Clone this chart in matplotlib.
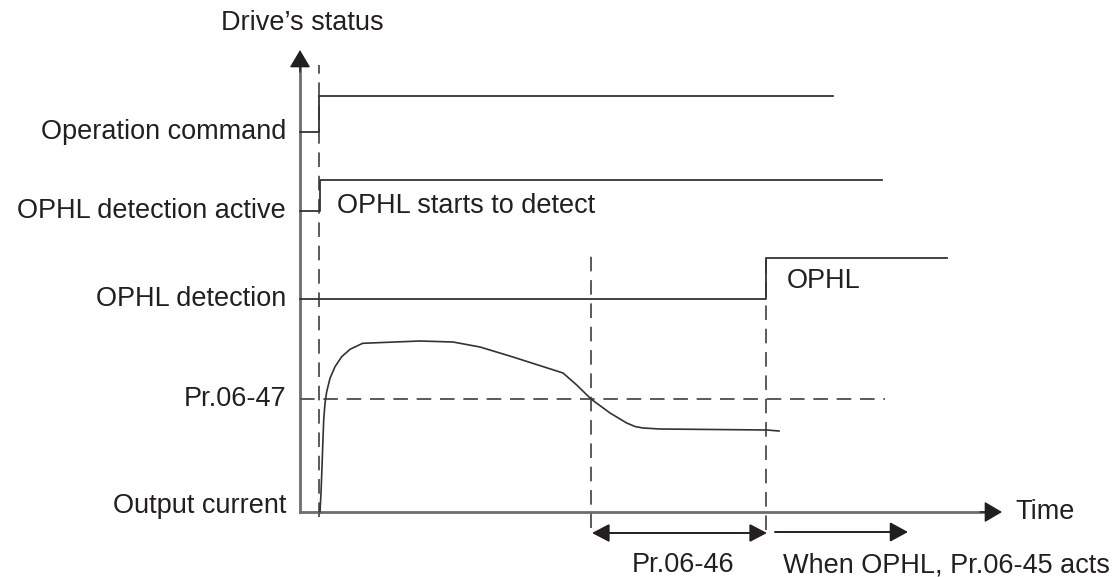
import matplotlib.pyplot as plt

plt.rcParams['font.family'] = ['Liberation Sans', 'DejaVu Sans']

# time measured from the vertical axis, level measured up from the time axis
t_run = 19          # run command given / detection starts
t_below = 291       # current falls under Pr.06-47
t_trip = 466        # OPHL declared

op_cmd = {'low': 380, 'high': 416, 'end': 533}
det_active = {'low': 301, 'high': 332, 'end': 582}
det_ophl = {'low': 213, 'high': 254, 'end': 647}
pr0647_level = 113
pr0647_end = 585

cur_t = [20, 21, 22, 22.7, 23.7, 25, 26.7, 30, 35, 41.7, 50, 62.7, 120, 153,
         180, 213, 263, 276.7, 291, 310, 326.7, 335, 343, 360, 466.7, 479]
cur_i = [0.3, 18.7, 45.3, 65.3, 92, 108.7, 120.3, 133.7, 145.3, 155.3, 162.7,
         168.7, 171, 170, 165, 155, 139, 127, 113, 99, 89, 85.5, 84, 83, 82, 81]

row_labels = ['Operation command', 'OPHL detection active', 'OPHL detection',
              'Pr.06-47', 'Output current']
row_levels = [380, 301, 213, 113, 6]

ink = '#231f20'
axis_grey = '#6e6e6e'
dash_grey = '#5a5a5a'
fs = 19.5

fig = plt.figure(figsize=(11.17, 5.77), dpi=100)
ax = fig.add_axes([0, 0, 1, 1])
ax.set_xlim(-300, 817)
ax.set_ylim(-65, 512)
ax.axis('off')

# axes of the diagram
ax.plot([0, 0], [0, 447], color=axis_grey, lw=2)
ax.plot([0, 685], [0, 0], color=axis_grey, lw=2)
head = dict(arrowstyle='-|>,head_length=11,head_width=6.5', color=ink,
            mutation_scale=1, shrinkA=0, shrinkB=0, lw=1)
ax.annotate('', xy=(0, 462), xytext=(0, 440), arrowprops=head)
ax.annotate('', xy=(702, 0), xytext=(680, 0), arrowprops=head)

# vertical event markers
dash = dict(color=dash_grey, lw=1.4, dashes=(7.5, 4.5))
ax.plot([t_run, t_run], [-5, 447], **dash)
ax.plot([t_below, t_below], [-16, 262], **dash)
ax.plot([t_trip, t_trip], [-18, 254], **dash)

# Pr.06-47 threshold
ax.plot([0, pr0647_end], [pr0647_level, pr0647_level], **dash)

# digital signals
sig = dict(color='#333333', lw=1.3)
ax.plot([0, t_run, t_run, op_cmd['end']],
        [op_cmd['low'], op_cmd['low'], op_cmd['high'], op_cmd['high']], **sig)
ax.plot([0, t_run + 1, t_run + 1, det_active['end']],
        [det_active['low'], det_active['low'], det_active['high'], det_active['high']], **sig)
ax.plot([0, t_trip, t_trip, det_ophl['end']],
        [det_ophl['low'], det_ophl['low'], det_ophl['high'], det_ophl['high']], **sig)

# output current
ax.plot(cur_t, cur_i, color='#333333', lw=1.2)

# timing arrows
both = dict(arrowstyle='<|-|>,head_length=10.5,head_width=5.5', color=ink,
            mutation_scale=1, shrinkA=0, shrinkB=0, lw=1.4)
ax.annotate('', xy=(t_below + 1, -21), xytext=(t_trip + 1, -21), arrowprops=both)
one = dict(arrowstyle='-|>,head_length=11,head_width=6', color=ink,
           mutation_scale=1, shrinkA=0, shrinkB=0, lw=1.4)
ax.annotate('', xy=(608, -20), xytext=(475, -20), arrowprops=one)

# text
for lab, lev in zip(row_labels, row_levels):
    ax.text(-14, lev, lab, ha='right', va='center', fontsize=fs, color=ink)
ax.text(2, 489, 'Drive\u2019s status', ha='center', va='center', fontsize=fs, color=ink)
ax.text(37, 306, 'OPHL starts to detect', ha='left', va='center', fontsize=fs, color=ink)
ax.text(487, 231, 'OPHL', ha='left', va='center', fontsize=fs, color=ink)
ax.text(715, 0, 'Time', ha='left', va='center', fontsize=fs, color=ink)
ax.text(383, -53, 'Pr.06-46', ha='center', va='center', fontsize=fs, color=ink)
ax.text(483, -53, 'When OPHL, Pr.06-45 acts', ha='left', va='center', fontsize=fs, color=ink)

fig.savefig('out.png', dpi=100)
